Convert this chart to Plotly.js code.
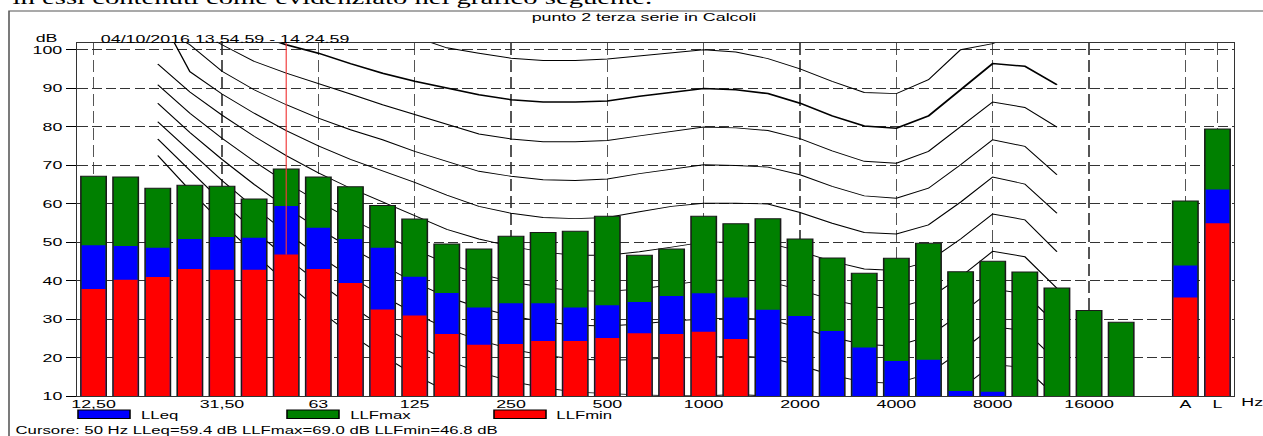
<!DOCTYPE html>
<html>
<head>
<meta charset="utf-8">
<script src="https://cdn.plot.ly/plotly-3.0.1.min.js"></script>
<style>
  html, body { margin: 0; padding: 0; background: #fff; overflow: hidden; }
  #wrap { width: 1263px; height: 436px; overflow: hidden; position: relative; }
  /* the chart is laid out narrow and widened horizontally, like the exported meter report */
  #chart { width: 815px; height: 436px; transform: scaleX(1.549693); transform-origin: 0 0; }
</style>
</head>
<body>
<div id="wrap"><div id="chart"></div></div>
<script>
// Third-octave bands, then the blank slot and the overall A / L levels
const bands = ['12,5','16','20','25','31,5','40','50','63','80','100','125','160','200','250','315','400','500','630','800','1000','1250','1600','2000','2500','3150','4000','5000','6300','8000','10000','12500','16000','20000','','A','L'];
const tickBands  = ['12,5','31,5','63','125','250','500','1000','2000','4000','8000','16000','A','L'];
const tickLabels = ['12,50','31,50','63','125','250','500','1000','2000','4000','8000','16000','A','L'];
const yTicks = [10, 20, 30, 40, 50, 60, 70, 80, 90, 100];

// Levels in dB per band (null = below the bottom of the scale / no value)
const LLFmax = [67.1, 66.9, 64.0, 64.8, 64.5, 61.2, 69.0, 66.9, 64.4, 59.5, 56.0, 49.5, 48.2, 51.5, 52.5, 52.8, 56.7, 46.6, 48.2, 56.7, 54.8, 56.1, 50.8, 45.9, 41.9, 45.8, 49.7, 42.3, 45.0, 42.2, 38.1, 32.2, 29.2, null, 60.7, 79.4];
const LLeq   = [49.2, 49.0, 48.5, 50.8, 51.3, 51.1, 59.4, 53.7, 50.8, 48.5, 41.0, 36.8, 33.0, 34.1, 34.1, 33.0, 33.6, 34.4, 36.0, 36.7, 35.6, 32.4, 30.8, 26.9, 22.6, 19.1, 19.4, 11.3, 11.1, null, null, null, null, null, 43.9, 63.7];
const LLFmin = [37.8, 40.2, 40.9, 43.0, 42.8, 42.8, 46.8, 43.0, 39.4, 32.5, 30.9, 26.1, 23.3, 23.5, 24.3, 24.3, 25.1, 26.3, 26.1, 26.7, 24.8, null, null, null, null, null, null, null, null, null, null, null, null, null, 35.6, 54.9];

const seriesNames  = ['LLeq', 'LLFmax', 'LLFmin'];
const seriesColors = ['#0000ff', '#008000', '#ff0000'];

const chartTitle = 'punto 2 terza serie in Calcoli';
const period = '04/10/2016 13.54.59 - 14.24.59';
const cursorBand = '50';
const pageLine = 'in essi contenuti come evidenziato nel grafico seguente.';

// Equal-loudness contours (phon), dB per band from 20 Hz to 12.5 kHz
const contourFreqs = ['20','25','31,5','40','50','63','80','100','125','160','200','250','315','400','500','630','800','1000','1250','1600','2000','2500','3150','4000','5000','6300','8000','10000','12500'];
const phon100 = [125, 122, 119, 116, 113, 110.5, 108, 105.5, 103.3, 100.5, 99.1, 97.8, 97.2, 97.2, 97.6, 98.4, 99.3, 100.0, 99.4, 97.7, 95.0, 91.8, 88.9, 88.6, 92.2, 100.0, 101.6, 105, 104];
const phon90  = [113, 110, 107, 104, 101.3, 99.1, 96.4, 93.9, 91.8, 90.1, 88.3, 87.0, 86.4, 86.4, 86.7, 87.9, 88.9, 89.9, 89.6, 88.6, 86.1, 82.8, 80.2, 79.6, 82.8, 89.6, 96.4, 95.7, 90.9];
const phon80  = [110, 106, 101.3, 97.0, 93.9, 91.3, 88.5, 85.7, 83.2, 80.5, 78.1, 76.8, 76.1, 76.1, 76.4, 77.6, 78.8, 79.9, 79.7, 79.0, 76.9, 73.7, 71.0, 70.5, 73.6, 79.9, 86.4, 85.0, 79.9];
const phon70  = [106, 101.3, 94.4, 89.6, 85.7, 82.2, 79.2, 76.6, 73.6, 70.9, 68.4, 67.1, 66.2, 66.0, 66.4, 67.8, 69.0, 70.1, 69.9, 69.5, 67.5, 64.5, 62.0, 61.4, 64.0, 70.1, 76.6, 74.9, 67.5];
const phon60  = [109.8, 94.3, 88.5, 83.5, 79.0, 75.0, 71.5, 68.5, 65.5, 62.2, 59.3, 57.5, 56.4, 56.1, 56.4, 57.9, 59.3, 60.1, 60.1, 59.9, 57.7, 54.9, 52.5, 52.1, 54.5, 60.4, 66.9, 65.1, 57.5];
const phon50  = [96.3, 89.0, 83.0, 77.5, 72.5, 68.0, 64.0, 60.5, 57.0, 53.3, 50.8, 48.9, 47.4, 46.6, 46.6, 47.5, 48.7, 50.0, 50.0, 49.8, 47.6, 45.0, 43.0, 42.6, 45.0, 50.8, 57.3, 55.8, 47.5];
const phon40  = [90.9, 83.5, 77.0, 71.0, 65.5, 60.5, 56.0, 52.0, 48.0, 44.5, 41.8, 39.7, 38.2, 37.4, 37.2, 37.8, 38.9, 40.0, 40.2, 39.8, 37.6, 35.0, 33.2, 32.8, 35.3, 41.0, 47.6, 46.2, 38.0];
const phon30  = [86.1, 78.5, 71.5, 65.0, 59.0, 53.5, 48.5, 44.0, 39.5, 35.8, 33.0, 30.8, 29.3, 28.4, 28.2, 28.7, 29.5, 30.0, 30.3, 29.9, 27.8, 25.2, 23.4, 23.0, 25.5, 31.3, 37.8, 36.6, 28.5];
const phon20  = [81.3, 73.5, 66.0, 59.0, 52.5, 46.5, 41.0, 36.0, 31.5, 27.5, 24.5, 22.2, 20.6, 19.6, 19.3, 19.5, 19.9, 20.0, 20.4, 20.0, 18.0, 15.4, 13.6, 13.3, 15.8, 21.6, 28.0, 27.0, 19.0];
const phon10  = [76.8, 68.5, 60.5, 53.0, 46.0, 39.5, 33.5, 28.0, 23.5, 19.3, 16.2, 13.8, 12.2, 11.0, 10.6, 10.3, 10.1, 10.0, 10.4, 10.0, 8.0, 5.5, 3.8, 3.5, 6.0, 11.8, 18.2, 17.4, 9.6];
const phon0   = [72.5, 63.5, 55.0, 47.0, 39.5, 32.5, 26.0, 20.5, 15.5, 11.2, 8.0, 5.5, 3.8, 2.5, 1.8, 1.0, 0.5, 0.0, 0.4, 0.0, -2.0, -4.6, -6.4, -6.7, -4.2, 1.6, 8.0, 7.6, -0.4];
const contours = [phon0, phon10, phon20, phon30, phon40, phon50, phon60, phon70, phon80, phon90, phon100];
const contourPhon = [0, 10, 20, 30, 40, 50, 60, 70, 80, 90, 100];

// ---- geometry of the narrow layout (widened by CSS afterwards) ----
const STRETCH = 1263 / 815;
const W = 815, H = 436;
const M = { l: 50, r: 19, t: 43, b: 40 };
const PW = W - M.l - M.r, PH = H - M.t - M.b;
const xRange = [-0.5, bands.length - 0.5];
const yRange = [10, 101.75];
// screen position (after widening) -> paper fraction
const px = xs => (xs / STRETCH - M.l) / PW;
const py = ys => (H - M.b - ys) / PH;

const FONT = 'Liberation Sans, Arial, sans-serif';
const txt = { family: FONT, size: 11.5, color: '#000' };
const small = { family: FONT, size: 10.8, color: '#000' };
const idx = b => bands.indexOf(b);
const xs = bands.map((b, i) => i);

const traces = [];

// contours on the base subplot, so the bars cover them
contours.forEach((c, k) => {
  traces.push({
    type: 'scatter', mode: 'lines', xaxis: 'x', yaxis: 'y',
    x: contourFreqs.map(idx), y: c,
    line: { color: '#000', width: contourPhon[k] === 90 ? 1.5 : 0.9 },
    hoverinfo: 'skip', showlegend: false
  });
});

// bars on an overlaid subplot
const seriesData = { LLeq: LLeq, LLFmax: LLFmax, LLFmin: LLFmin };
['LLFmax', 'LLeq', 'LLFmin'].forEach(name => {
  const outer = name === 'LLFmax';
  traces.push({
    type: 'bar', xaxis: 'x2', yaxis: 'y2', name: name,
    x: xs, y: seriesData[name],
    width: outer ? 0.79 : 0.74,
    marker: { color: seriesColors[seriesNames.indexOf(name)],
              line: { color: '#1a1a1a', width: outer ? 1 : 0 } },
    showlegend: false, hoverinfo: 'skip'
  });
});

const annotations = [
  { text: pageLine, x: px(10), y: py(-1.5), xanchor: 'left', yanchor: 'middle',
    font: { family: 'Liberation Serif, Times New Roman, serif', size: 18.5, color: '#000' } },
  { text: chartTitle, x: px(643.5), y: py(17), xanchor: 'center', yanchor: 'middle', font: txt },
  { text: 'dB', x: px(61), y: py(38), xanchor: 'right', yanchor: 'middle', font: txt },
  { text: period, x: px(97), y: py(39), xanchor: 'left', yanchor: 'middle', font: txt },
  { text: 'Hz', x: px(1238), y: py(402), xanchor: 'left', yanchor: 'middle', font: txt }
];

const shapes = [
  // report frame
  { type: 'rect', xref: 'paper', yref: 'paper', x0: px(9), x1: px(1290), y0: py(11), y1: py(460),
    line: { color: '#555', width: 1 }, fillcolor: 'rgba(0,0,0,0)', layer: 'below' },
  // cursor
  { type: 'line', xref: 'x', yref: 'y', x0: idx(cursorBand), x1: idx(cursorBand),
    y0: LLFmin[idx(cursorBand)], y1: yRange[1],
    line: { color: '#f03a3a', width: 0.75 }, layer: 'above' }
];

// legend row
const legendX = [78, 287, 494];
seriesNames.forEach((n, i) => {
  shapes.push({ type: 'rect', xref: 'paper', yref: 'paper',
    x0: px(legendX[i]), x1: px(legendX[i] + 52), y0: py(410), y1: py(418.5),
    fillcolor: seriesColors[i], line: { color: '#000', width: 1 } });
  annotations.push({ text: n, x: px(legendX[i] + 60), y: py(414.5), xanchor: 'left', yanchor: 'middle', font: small });
});

// cursor read-out
const ci = idx(cursorBand);
const readout = 'Cursore: ' + cursorBand + ' Hz ' +
  seriesNames.map(n => n + '=' + seriesData[n][ci].toFixed(1) + ' dB').join(' ');
annotations.push({ text: readout, x: px(12), y: py(430), xanchor: 'left', yanchor: 'middle', font: small });

annotations.forEach(a => { a.xref = 'paper'; a.yref = 'paper'; a.showarrow = false; });

const layout = {
  width: W, height: H, margin: M,
  paper_bgcolor: '#fff', plot_bgcolor: '#fff',
  barmode: 'overlay', showlegend: false,
  font: txt,
  xaxis: {
    range: xRange, tickvals: tickBands.map(idx), ticktext: tickLabels,
    showgrid: true, gridcolor: '#555', gridwidth: 1, griddash: '12px,5px',
    zeroline: false, showline: true, linecolor: '#333', linewidth: 1, mirror: true,
    ticks: '', tickfont: txt, ticklabelstandoff: -3
  },
  yaxis: {
    range: yRange, tickvals: yTicks,
    showgrid: true, gridcolor: '#333', gridwidth: 1, griddash: '6.5px,2.7px',
    zeroline: false, showline: true, linecolor: '#333', linewidth: 1, mirror: true,
    ticks: 'outside', ticklen: 6.5, tickwidth: 1, tickcolor: '#000', tickfont: txt
  },
  xaxis2: { overlaying: 'x', anchor: 'y2', range: xRange, visible: false },
  yaxis2: { overlaying: 'y', anchor: 'x2', range: yRange, visible: false },
  annotations: annotations,
  shapes: shapes
};

Plotly.newPlot('chart', traces, layout, { staticPlot: true, displayModeBar: false });
</script>
</body>
</html>
